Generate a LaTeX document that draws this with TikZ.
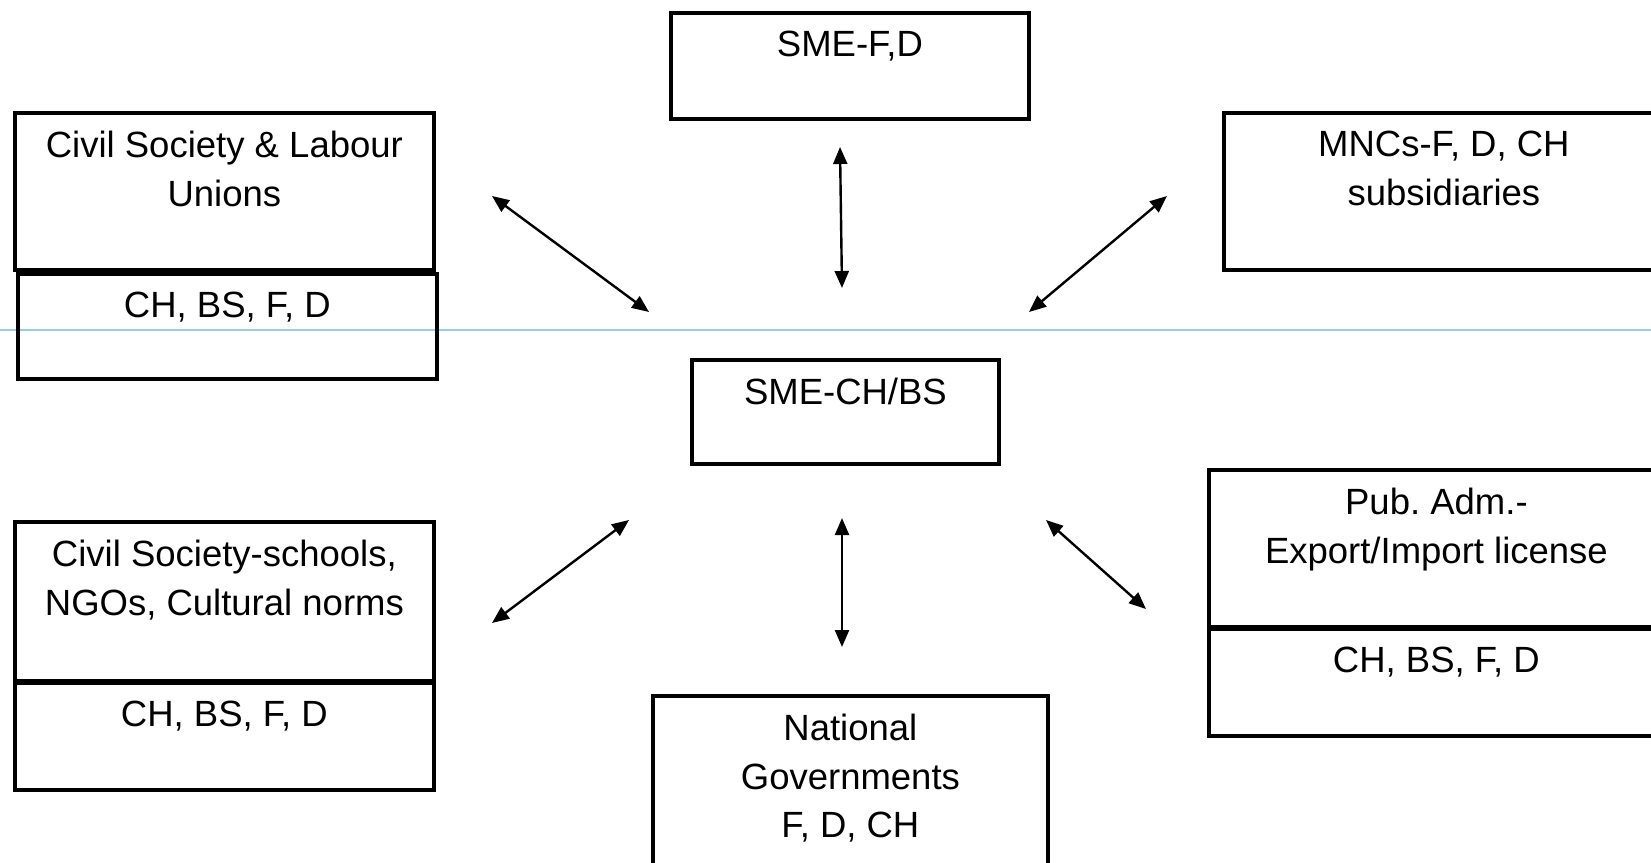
\documentclass[tikz,border=0pt]{standalone}
\usepackage{fontspec}
\setmainfont{Liberation Sans}
\usetikzlibrary{arrows.meta}
\frenchspacing
\begin{document}
\begin{tikzpicture}[x=1pt,y=-1pt,
  box/.style={draw=black,line width=3.8pt,inner sep=0pt,anchor=north west},
  txt/.style={align=center,inner sep=0pt,anchor=north,font=\fontsize{36.5}{48.5}\selectfont},
  link/.style={line width=2.4pt,{Triangle[length=17pt,width=14pt]}-{Triangle[length=17pt,width=14pt]}}]
\useasboundingbox (0,0) rectangle (1651,862);
\clip (0,0) rectangle (1651,862);
\definecolor{guide}{RGB}{150,205,230}
\draw[guide,line width=1.2pt] (0,330) -- (1651,330);

% top centre
\node[box,minimum width=358pt,minimum height=106pt] (smefd) at (669,11) {};
\node[txt] (smefdt) at ([yshift=-20pt]smefd.north) {SME-F,D};

% upper left
\node[box,minimum width=419pt,minimum height=157pt] (csl) at (13,111) {};
\node[txt] (cslt) at ([yshift=-20pt]csl.north) {Civil Society \& Labour\\Unions};
\node[box,minimum width=419pt,minimum height=105pt] (csll) at (16,272) {};
\node[txt] (csllt) at ([yshift=-20pt]csll.north) {CH, BS, F, D};

% upper right
\node[box,minimum width=440pt,minimum height=157pt] (mnc) at (1222,111) {};
\node[txt] (mnct) at ([yshift=-20pt]mnc.north) {MNCs-F, D, CH\\subsidiaries};

% centre
\node[box,minimum width=307pt,minimum height=104pt] (smech) at (690,358) {};
\node[txt] (smecht) at ([yshift=-20pt]smech.north) {SME-CH/BS};

% lower left
\node[box,minimum width=419pt,minimum height=159pt] (css) at (13,520) {};
\node[txt] (csst) at ([yshift=-20pt]css.north) {Civil Society-schools,\\NGOs, Cultural norms};
\node[box,minimum width=419pt,minimum height=107pt] (cssl) at (13,681) {};
\node[txt] (csslt) at ([yshift=-20pt]cssl.north) {CH, BS, F, D};

% lower right
\node[box,minimum width=455pt,minimum height=157pt] (pub) at (1207,468) {};
\node[txt] (pubt) at ([yshift=-20pt]pub.north) {Pub. Adm.-\\Export/Import license};
\node[box,minimum width=455pt,minimum height=107pt] (publ) at (1207,627) {};
\node[txt] (publt) at ([yshift=-20pt]publ.north) {CH, BS, F, D};

% bottom centre
\node[box,minimum width=395pt,minimum height=190pt] (nat) at (651,694) {};
\node[txt] (natt) at ([yshift=-20pt]nat.north) {National\\Governments\\F, D, CH};

% connectors
\coordinate (a1s) at (492,196); \coordinate (a1e) at (649,312);
\coordinate (a2s) at (840,147); \coordinate (a2e) at (842,288);
\coordinate (a3s) at (1167,196); \coordinate (a3e) at (1029,312);
\coordinate (a4s) at (629,520); \coordinate (a4e) at (492,623);
\coordinate (a5s) at (842,518); \coordinate (a5e) at (842,647);
\coordinate (a6s) at (1046,520); \coordinate (a6e) at (1146,609);
\draw[link] (a1s) -- (a1e);
\draw[link] (a2s) -- (a2e);
\draw[link] (a3s) -- (a3e);
\draw[link] (a4s) -- (a4e);
\draw[link] (a5s) -- (a5e);
\draw[link] (a6s) -- (a6e);
\end{tikzpicture}
\end{document}
